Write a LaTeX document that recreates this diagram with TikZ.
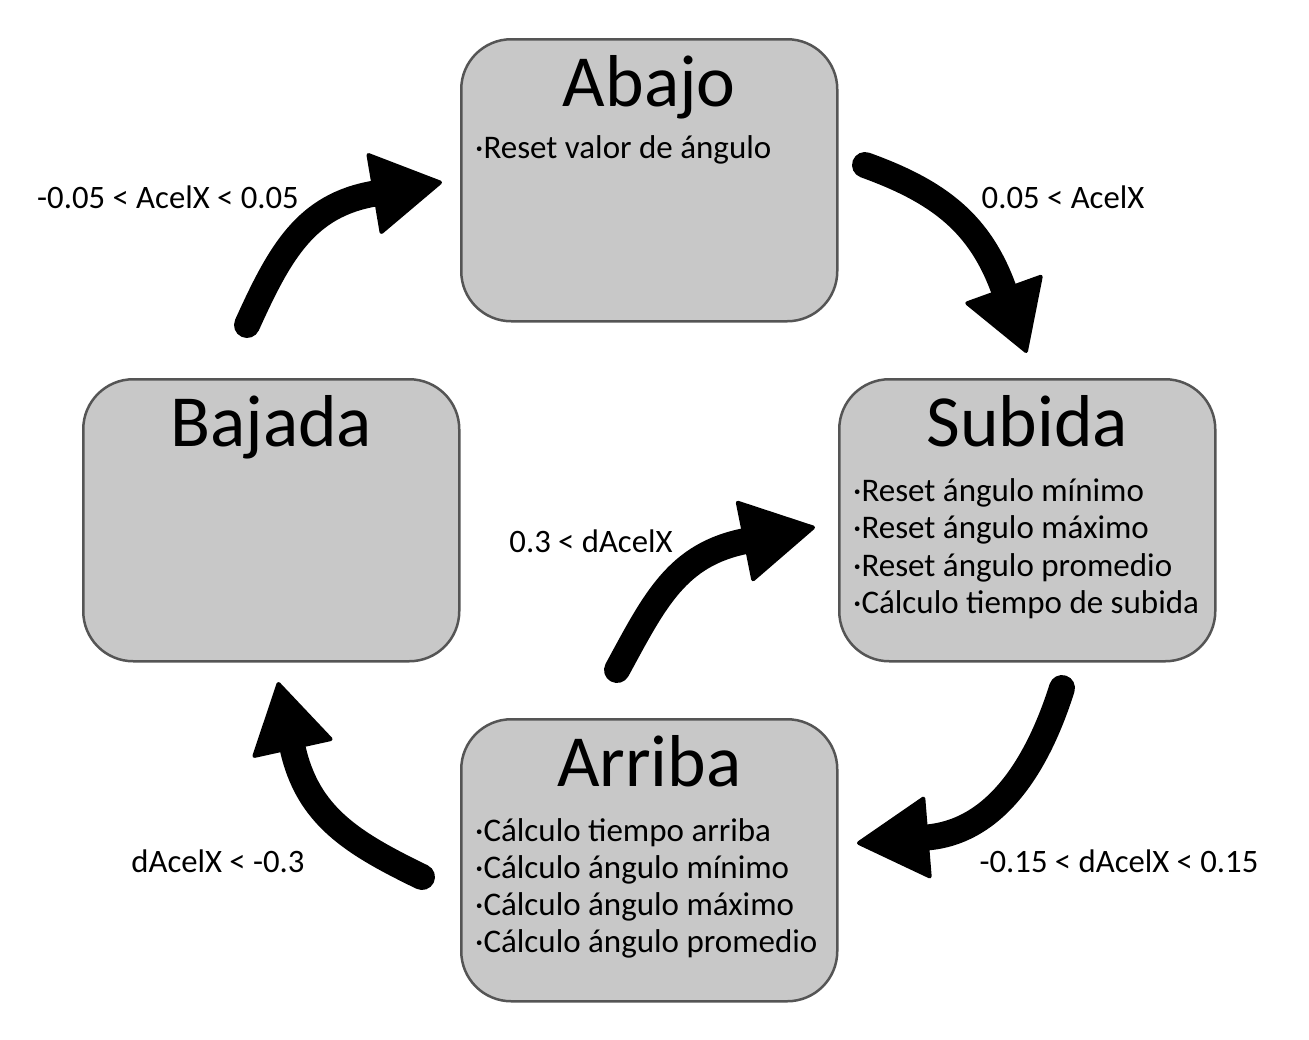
\documentclass[tikz,border=0pt]{standalone}
\usepackage{fontspec}
\setmainfont{Carlito}
\usetikzlibrary{calc}
\definecolor{boxfill}{RGB}{200,200,200}
\definecolor{boxline}{RGB}{85,85,85}
\begin{document}
\begin{tikzpicture}[x=1pt,y=-1pt,
  box/.style={draw=boxline, fill=boxfill, line width=2.5pt, rounded corners=50pt,
    minimum width=376pt, minimum height=282pt, inner sep=0pt, anchor=north west},
  ttl/.style={font=\fontsize{73.5}{80}\selectfont, anchor=base, inner sep=0pt},
  body/.style={font=\fontsize{33}{37.3}\selectfont, anchor=base west, inner sep=0pt},
  lbl/.style={font=\fontsize{32.7}{37.3}\selectfont, anchor=base, inner sep=0pt},
  shaft/.style={line width=26pt, line cap=round},
  head/.style={fill=black, draw=black, line width=4pt, line join=round}
]
\useasboundingbox (0,0) rectangle (1309,1039);

% boxes
\node[box] (abajo) at (460,38) {};
\node[box] (bajada) at (82,378) {};
\node[box] (subida) at (838,378) {};
\node[box] (arriba) at (460,718) {};

% titles
\node[ttl] (tabajo) at ($(abajo.north)+(0,68)$) {Abajo};
\node[ttl] (tbajada) at ($(bajada.north)+(0,68)$) {Bajada};
\node[ttl] (tsubida) at ($(subida.north)+(0,68)$) {Subida};
\node[ttl] (tarriba) at ($(arriba.north)+(0,68)$) {Arriba};

% body texts
\node[body] (ab1) at ($(abajo.north west)+(15,120.5)$) {·Reset valor de ángulo};

\node[body] (su1) at ($(subida.north west)+(15,123.5)$) {·Reset ángulo mínimo};
\node[body] (su2) at ($(su1.base west)+(0,37.3)$) {·Reset ángulo máximo};
\node[body] (su3) at ($(su2.base west)+(0,37.3)$) {·Reset ángulo promedio};
\node[body] (su4) at ($(su3.base west)+(0,37.3)$) {·Cálculo tiempo de subida};

\node[body] (ar1) at ($(arriba.north west)+(15,123)$) {·Cálculo tiempo arriba};
\node[body] (ar2) at ($(ar1.base west)+(0,37.3)$) {·Cálculo ángulo mínimo};
\node[body] (ar3) at ($(ar2.base west)+(0,37.3)$) {·Cálculo ángulo máximo};
\node[body] (ar4) at ($(ar3.base west)+(0,37.3)$) {·Cálculo ángulo promedio};

% labels
\node[lbl] (l1) at (168,208) {-0.05 < AcelX < 0.05};
\node[lbl] (l2) at (1063,208) {0.05 < AcelX};
\node[lbl] (l3) at (591,552) {0.3 < dAcelX};
\node[lbl] (l4) at (218,872) {dAcelX < -0.3};
\node[lbl] (l5) at (1119,872) {-0.15 < dAcelX < 0.15};

% arrow coordinates
\coordinate (S1) at (247,325); \coordinate (C1) at (280,252);
\coordinate (M1) at (375,193.5); \coordinate (T1) at (440,182.5);
\coordinate (S2) at (865,165); \coordinate (C2) at (940,192);
\coordinate (M2) at (1004,290); \coordinate (T2) at (1026,351);
\coordinate (S3) at (617,670); \coordinate (C3) at (655,600);
\coordinate (M3) at (745.5,541); \coordinate (T3) at (813,527.5);
\coordinate (S4) at (1062,688); \coordinate (C4) at (1038,764);
\coordinate (M4) at (926.5,837.5); \coordinate (T4) at (859,843);
\coordinate (S5) at (422,877); \coordinate (C5) at (352,843);
\coordinate (M5) at (292.5,747.5); \coordinate (T5) at (278.5,684);

% arrows
\foreach \i in {1,...,5}{
  \draw[shaft] (S\i) .. controls (C\i) and ($(M\i)!-70pt!(T\i)$) .. (M\i);
  \draw[head] ($(M\i)!39pt!90:(T\i)$) -- (T\i) -- ($(M\i)!39pt!-90:(T\i)$) -- cycle;
}
\end{tikzpicture}
\end{document}
